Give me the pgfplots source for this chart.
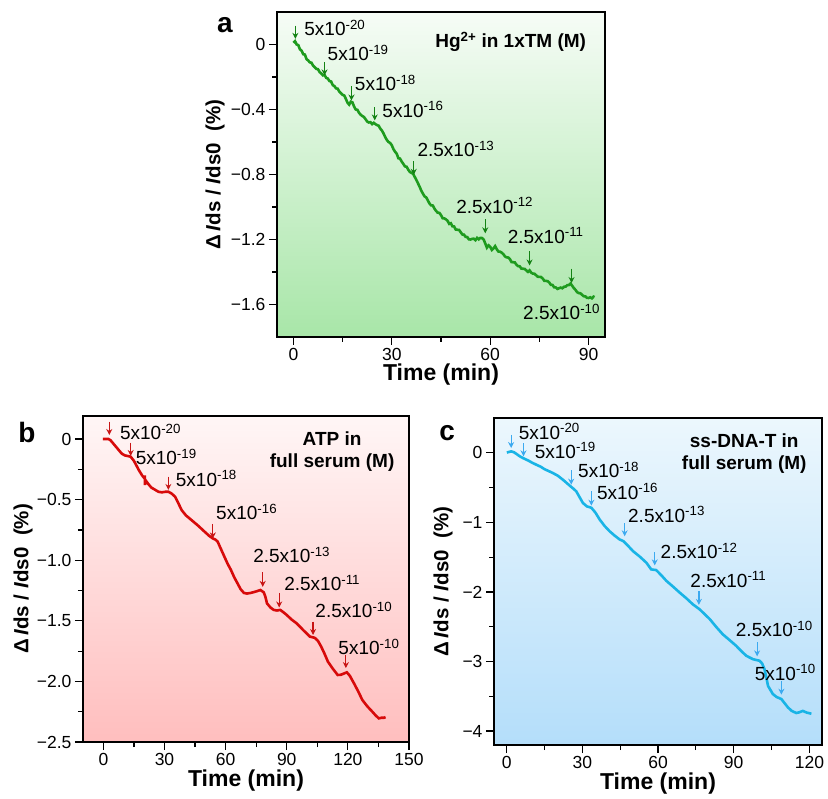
\documentclass[border=0pt]{standalone}
\usepackage{fontspec}
\setmainfont{Liberation Sans}
\usepackage{pgfplots}
\pgfplotsset{compat=1.18}
\usetikzlibrary{arrows.meta}

\definecolor{gline}{RGB}{30,155,30}
\definecolor{garr}{RGB}{20,130,20}
\definecolor{gtop}{RGB}{246,252,246}
\definecolor{gbot}{RGB}{168,230,168}
\definecolor{rline}{RGB}{215,10,10}
\definecolor{rarr}{RGB}{200,20,20}
\definecolor{rtop}{RGB}{255,246,246}
\definecolor{rbot}{RGB}{255,190,190}
\definecolor{cline}{RGB}{25,180,230}
\definecolor{carr}{RGB}{60,170,240}
\definecolor{ctop}{RGB}{236,247,253}
\definecolor{cbot}{RGB}{180,222,250}

\newcommand{\ann}[2]{#1x10\textsuperscript{-#2}}

\tikzset{annot/.style={anchor=west, inner sep=0pt, font=\fontsize{19}{22}\selectfont}}

\pgfplotsset{
  panel/.style={
    scale only axis,
    clip=false,
    axis line style={line width=1.4pt},
    tick align=outside,
    tick pos=left,
    major tick length=8pt,
    minor tick length=5pt,
    every tick/.style={black, line width=1.2pt},
    minor x tick num=1, minor y tick num=1,
    tick label style={font=\fontsize{17.5}{20}\selectfont},
    /pgf/number format/assume math mode=true,
    xlabel={Time (min)},
    ylabel={Δ\,\textit{I}ds / \textit{I}ds0~~(\%)},
    every axis x label/.style={at={(axis description cs:0.5,-0.117)}, anchor=center,
      font=\fontsize{23}{26}\selectfont\bfseries},
  },
  ylab/.style={every axis y label/.style={at={(axis description cs:#1,0.5)}, rotate=90, anchor=center,
      font=\fontsize{20.5}{24}\selectfont\bfseries}},
  arr/.style={line width=1.3pt, -{Stealth[length=6pt,width=6pt]},
      quiver={u=\thisrow{u}, v=\thisrow{v}}},
}

\begin{document}
\begin{tikzpicture}[x=1pt,y=1pt]
\useasboundingbox (0,0) rectangle (828,-799);

% ---------------- panel a ----------------
\begin{axis}[panel,
  at={(277pt,-12pt)}, anchor=north west,
  width=328pt, height=325pt,
  xmin=-5, xmax=95, ymin=-1.8, ymax=0.2,
  xtick={0,30,60,90},
  ytick={-1.6,-1.2,-0.8,-0.4,0},
  yticklabels={−1.6,−1.2,−0.8,−0.4,0},
  ylab=-0.189,
  axis background/.style={shade, top color=gtop, bottom color=gbot},
]
\addplot[gline, line width=2.6pt] table {
t v
0 0.01
0.5 0.02
1 0.0
1.5 -0.004
2 -0.03
2.5 -0.038
3 -0.06
3.5 -0.062
4 -0.09
4.5 -0.098
5 -0.11
5.5 -0.112
6 -0.13
6.5 -0.14
7 -0.15
7.5 -0.152
8 -0.17
8.5 -0.178
9 -0.19
9.5 -0.188
10 -0.205
10.5 -0.21
11 -0.225
11.5 -0.228
12 -0.25
12.5 -0.256
13 -0.27
13.5 -0.272
14 -0.29
14.5 -0.3
15 -0.31
15.5 -0.314
16 -0.335
16.5 -0.358
17 -0.37
17.5 -0.352
18 -0.356
18.5 -0.382
19 -0.40
19.5 -0.402
20 -0.42
20.5 -0.432
21 -0.44
21.5 -0.446
22 -0.46
22.5 -0.474
23 -0.48
23.5 -0.478
24 -0.49
24.5 -0.482
25 -0.49
25.5 -0.496
26 -0.50
26.5 -0.518
27 -0.53
27.5 -0.548
28 -0.57
28.5 -0.588
29 -0.60
29.5 -0.606
30 -0.62
30.5 -0.644
31 -0.66
31.5 -0.672
32 -0.70
32.5 -0.702
33 -0.72
33.5 -0.734
34 -0.75
34.5 -0.752
35 -0.77
35.5 -0.784
36 -0.79
36.5 -0.796
37 -0.815
37.5 -0.834
38 -0.855
38.5 -0.876
39 -0.90
39.5 -0.918
40 -0.935
40.5 -0.941
41 -0.96
41.5 -0.979
42 -0.99
42.5 -0.991
43 -1.01
43.5 -1.024
44 -1.035
44.5 -1.036
45 -1.05
45.5 -1.069
46 -1.07
46.5 -1.076
47 -1.085
47.5 -1.104
48 -1.10
48.5 -1.119
49 -1.12
49.5 -1.139
50 -1.14
50.5 -1.141
51 -1.155
51.5 -1.169
52 -1.17
52.5 -1.184
53 -1.185
53.5 -1.199
54 -1.20
54.5 -1.196
55 -1.195
55.5 -1.204
56 -1.19
56.5 -1.199
57 -1.19
57.5 -1.191
58 -1.20
58.5 -1.225
59 -1.25
59.5 -1.236
60 -1.245
60.5 -1.264
61 -1.255
61.5 -1.241
62 -1.26
62.5 -1.274
63 -1.275
63.5 -1.281
64 -1.29
64.5 -1.304
65 -1.31
65.5 -1.311
66 -1.32
66.5 -1.339
67 -1.34
67.5 -1.341
68 -1.355
68.5 -1.364
69 -1.365
69.5 -1.379
70 -1.38
70.5 -1.381
71 -1.39
71.5 -1.399
72 -1.39
72.5 -1.404
73 -1.41
73.5 -1.411
74 -1.42
74.5 -1.429
75 -1.43
75.5 -1.431
76 -1.44
76.5 -1.454
77 -1.455
77.5 -1.456
78 -1.465
78.5 -1.479
79 -1.48
79.5 -1.494
80 -1.495
80.5 -1.504
81 -1.50
81.5 -1.496
82 -1.50
82.5 -1.491
83 -1.49
83.5 -1.481
84 -1.48
84.5 -1.471
85 -1.485
85.5 -1.499
86 -1.51
86.5 -1.524
87 -1.53
87.5 -1.531
88 -1.54
88.5 -1.549
89 -1.55
89.5 -1.559
90 -1.56
90.5 -1.556
91 -1.562
91.5 -1.552
91.8 -1.555
};
\addplot[garr, arr] table {
x y u v
0.6 0.116 0 -0.081
9.5 -0.108 0 -0.082
17.7 -0.257 0 -0.088
24.8 -0.386 0 -0.081
36.7 -0.717 0 -0.085
58.5 -1.074 0 -0.088
72.0 -1.272 0 -0.088
84.8 -1.380 0 -0.088
};
\node[annot] at (axis cs:3.3,0.10) {\ann{5}{20}};
\node[annot] at (axis cs:10.4,-0.053) {\ann{5}{19}};
\node[annot] at (axis cs:18.7,-0.237) {\ann{5}{18}};
\node[annot] at (axis cs:27.1,-0.40) {\ann{5}{16}};
\node[annot] at (axis cs:37.8,-0.645) {\ann{2.5}{13}};
\node[annot] at (axis cs:49.6,-0.99) {\ann{2.5}{12}};
\node[annot] at (axis cs:65.3,-1.176) {\ann{2.5}{11}};
\node[annot] at (axis cs:70.0,-1.646) {\ann{2.5}{10}};
\node[font=\fontsize{19}{22}\selectfont\bfseries] at (axis description cs:0.7125,0.909) {Hg\textsuperscript{2+} in 1xTM (M)};
\node[font=\fontsize{28}{30}\selectfont\bfseries] at (axis description cs:-0.159,0.96) {a};
\end{axis}

% ---------------- panel b ----------------
\begin{axis}[panel,
  at={(83pt,-416pt)}, anchor=north west,
  width=326pt, height=326pt,
  xmin=-10, xmax=150, ymin=-2.5, ymax=0.19,
  xtick={0,30,60,90,120,150},
  ytick={-2.5,-2,-1.5,-1,-0.5,0},
  yticklabels={−2.5,−2.0,−1.5,−1.0,−0.5,0},
  ylab=-0.184,
  axis background/.style={shade, top color=rtop, bottom color=rbot},
]
\addplot[rline, line width=2.6pt] table {
t v
-0.3 0
2.5 0.0
3.5 -0.01
5 -0.04
7 -0.08
9 -0.12
10.5 -0.135
12 -0.14
13.4 -0.146
15 -0.18
17.4 -0.256
19 -0.30
20.2 -0.325
20.3 -0.30
20.4 -0.38
20.5 -0.335
22 -0.37
23.5 -0.40
25.5 -0.42
27 -0.435
28.7 -0.44
30.5 -0.435
31.9 -0.435
33.5 -0.45
35.2 -0.476
36.8 -0.53
38.4 -0.586
40.5 -0.63
43.2 -0.668
46.5 -0.715
49.7 -0.765
52 -0.80
53.7 -0.82
55 -0.83
56.1 -0.847
57.5 -0.90
59.4 -0.971
61 -1.03
62.6 -1.08
64.2 -1.14
65.8 -1.19
67.4 -1.24
69 -1.27
70.5 -1.275
72.3 -1.27
74.5 -1.26
77.1 -1.246
78.7 -1.265
79.5 -1.30
80.3 -1.356
82 -1.39
83.6 -1.41
85.2 -1.415
86.8 -1.41
88.4 -1.43
90 -1.452
92.4 -1.49
94.8 -1.52
98 -1.575
101.3 -1.63
103.7 -1.64
105.3 -1.665
106.9 -1.713
108.5 -1.77
110.2 -1.837
112.6 -1.895
115 -1.947
116.6 -1.945
118.2 -1.934
119.5 -1.925
121 -1.955
123 -2.016
125 -2.08
127.1 -2.153
129.5 -2.205
132 -2.25
133.6 -2.28
135.2 -2.305
136.5 -2.30
137.7 -2.30
138.5 -2.295
};
\addplot[rarr, arr] table {
x y u v
2.9 0.143 0 -0.11
13.4 -0.03 0 -0.11
31.9 -0.31 0 -0.11
53.7 -0.70 0 -0.12
78.2 -1.10 0 -0.12
86.3 -1.27 0 -0.12
102.9 -1.507 0 -0.11
119.0 -1.78 0 -0.11
};
\node[annot] at (axis cs:8.1,0.06) {\ann{5}{20}};
\node[annot] at (axis cs:15.8,-0.146) {\ann{5}{19}};
\node[annot] at (axis cs:35.5,-0.325) {\ann{5}{18}};
\node[annot] at (axis cs:55.3,-0.60) {\ann{5}{16}};
\node[annot] at (axis cs:73.5,-0.957) {\ann{2.5}{13}};
\node[annot] at (axis cs:88.7,-1.19) {\ann{2.5}{11}};
\node[annot] at (axis cs:104,-1.41) {\ann{2.5}{10}};
\node[annot] at (axis cs:115.3,-1.713) {\ann{5}{10}};
\node[font=\fontsize{19}{22}\selectfont\bfseries, align=center] at (axis description cs:0.764,0.89) {ATP in\\full serum (M)};
\node[font=\fontsize{28}{30}\selectfont\bfseries] at (axis description cs:-0.172,0.948) {b};
\end{axis}

% ---------------- panel c ----------------
\begin{axis}[panel,
  at={(494pt,-418pt)}, anchor=north west,
  width=328pt, height=327pt,
  xmin=-5, xmax=125, ymin=-4.2, ymax=0.5,
  xtick={0,30,60,90,120},
  ytick={-4,-3,-2,-1,0},
  yticklabels={−4,−3,−2,−1,0},
  ylab=-0.155,
  axis background/.style={shade, top color=ctop, bottom color=cbot},
]
\addplot[cline, line width=2.6pt] table {
t v
0.1 0.004
1.8 0.02
2.8 0.01
3.8 -0.014
5.2 -0.05
6.5 -0.076
8.5 -0.11
10 -0.14
11.8 -0.172
13.5 -0.20
15 -0.235
16.5 -0.26
18.3 -0.29
20.3 -0.33
22.3 -0.387
24 -0.44
25.6 -0.49
26.6 -0.52
27.6 -0.554
28.8 -0.63
30.2 -0.72
31.8 -0.77
33.6 -0.79
35.2 -0.86
36.9 -0.96
38.8 -1.05
40.8 -1.127
42.8 -1.19
44.8 -1.246
46.3 -1.27
48.2 -1.34
50.1 -1.414
52.7 -1.49
55.4 -1.58
57.3 -1.676
59.3 -1.686
61.3 -1.76
63.3 -1.84
66 -1.925
68.6 -2.01
71.2 -2.09
73.8 -2.178
76.5 -2.25
78.5 -2.32
80.5 -2.39
83 -2.50
85.7 -2.61
88.3 -2.69
91 -2.775
93 -2.85
95 -2.918
97.6 -2.966
100.3 -2.99
101.3 -3.03
102.2 -3.11
103 -3.24
103.6 -3.35
105.5 -3.467
107 -3.51
108.9 -3.54
110.2 -3.60
111.5 -3.66
113 -3.71
114.8 -3.74
116 -3.73
117.4 -3.71
119 -3.735
120.8 -3.75
};
\addplot[carr, arr] table {
x y u v
1.8 0.258 0 -0.19
6.7 0.139 0 -0.19
25.6 -0.253 0 -0.205
33.6 -0.554 0 -0.206
46.8 -1.01 0 -0.19
58.7 -1.428 0 -0.19
76.2 -1.987 0 -0.2
99.3 -2.726 0 -0.2
108.9 -3.277 0 -0.2
};
\node[annot] at (axis cs:4.8,0.305) {\ann{5}{20}};
\node[annot] at (axis cs:11.1,0.033) {\ann{5}{19}};
\node[annot] at (axis cs:28.3,-0.244) {\ann{5}{18}};
\node[annot] at (axis cs:35.8,-0.554) {\ann{5}{16}};
\node[annot] at (axis cs:48.1,-0.888) {\ann{2.5}{13}};
\node[annot] at (axis cs:61,-1.414) {\ann{2.5}{12}};
\node[annot] at (axis cs:72.8,-1.82) {\ann{2.5}{11}};
\node[annot] at (axis cs:90.8,-2.536) {\ann{2.5}{10}};
\node[annot] at (axis cs:98.3,-3.156) {\ann{5}{10}};
\node[font=\fontsize{19}{22}\selectfont\bfseries, align=center] at (axis description cs:0.763,0.892) {ss-DNA-T in\\full serum (M)};
\node[font=\fontsize{28}{30}\selectfont\bfseries] at (axis description cs:-0.143,0.954) {c};
\end{axis}
\end{tikzpicture}
\end{document}
